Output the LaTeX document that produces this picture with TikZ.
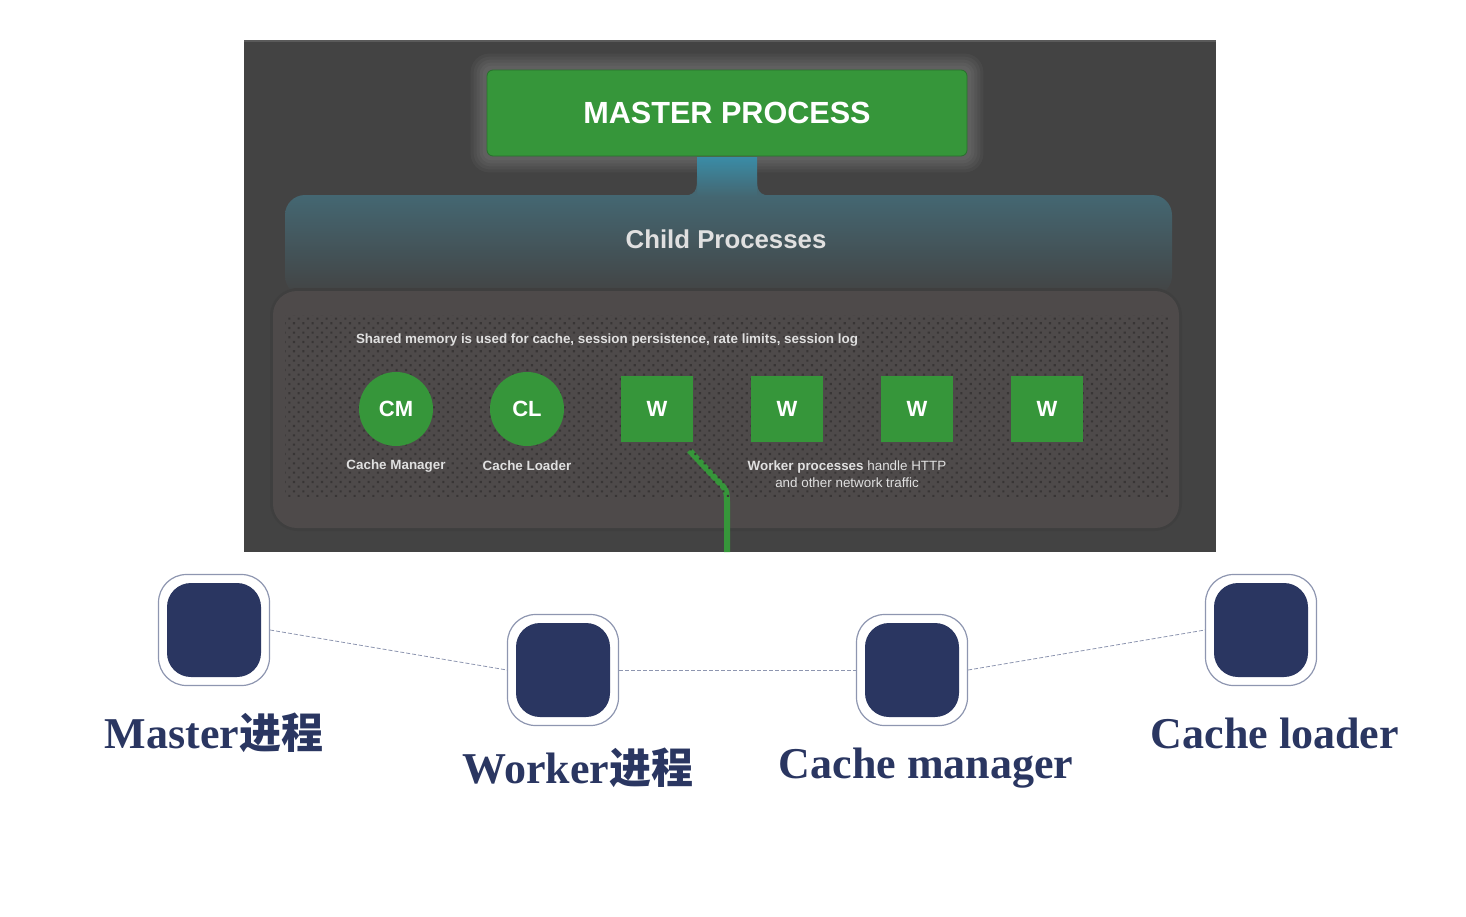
\documentclass[tikz,border=0pt]{standalone}
\usepackage{fontspec}
\setmainfont{Liberation Serif}
\setsansfont{Liberation Sans}
\newfontfamily\cjk{Noto Sans CJK SC}
\usetikzlibrary{positioning,backgrounds,patterns.meta}
\definecolor{panelgray}{HTML}{434343}
\definecolor{innergray}{HTML}{4E4A4A}
\definecolor{dotgray}{HTML}{383535}
\definecolor{ngxgreen}{HTML}{36963A}
\definecolor{tealband}{HTML}{446772}
\definecolor{tealneck}{HTML}{3A8CA6}
\definecolor{navy}{HTML}{2A3661}
\definecolor{ringgray}{HTML}{8E96B0}
\begin{document}
\begin{tikzpicture}[x=0.5pt,y=-0.5pt,
  proc/.style={fill=ngxgreen,text=white,font=\sffamily\bfseries\fontsize{11}{13}\selectfont,inner sep=0pt},
  worker/.style={proc,minimum width=36pt,minimum height=33pt},
  helper/.style={proc,circle,minimum size=37pt},
  note/.style={text=white!88!black,font=\sffamily\fontsize{6.7}{8.5}\selectfont,align=center,inner sep=0pt},
  ring/.style={draw=ringgray,line width=0.6pt,fill=white,rounded corners=14pt,minimum size=55.5pt},
  icon/.style={fill=navy,rounded corners=12pt,minimum size=47pt},
  caption/.style={text=navy,font=\bfseries\fontsize{22}{26}\selectfont,inner sep=0pt}]
  \useasboundingbox (0,0) rectangle (1466,916);
  \node[proc,minimum width=240pt,minimum height=43pt,rounded corners=3pt,draw=ngxgreen!75!black,
        font=\sffamily\bfseries\fontsize{15.3}{18}\selectfont] (master) at (727,113) {MASTER PROCESS};
  \node[note,font=\sffamily\bfseries\fontsize{12.9}{15}\selectfont] (child) at (726,239) {Child Processes};
  \node[note,font=\sffamily\bfseries\fontsize{6.7}{8.5}\selectfont] (shm) at (607,340) {Shared memory is used for cache, session persistence, rate limits, session log};
  \node[helper] (cm) at (396,409) {CM};
  \node[helper] (cl) at (527,409) {CL};
  \node[worker] (w1) at (657,409) {W};
  \node[worker] (w2) at (787,409) {W};
  \node[worker] (w3) at (917,409) {W};
  \node[worker] (w4) at (1047,409) {W};
  \node[note,font=\sffamily\bfseries\fontsize{6.7}{8.5}\selectfont] (cmlabel) at (396,466) {Cache Manager};
  \node[note,font=\sffamily\bfseries\fontsize{6.7}{8.5}\selectfont] (cllabel) at (527,466) {Cache Loader};
  \node[note] (wlabel) at (847,474) {\textbf{Worker processes} handle HTTP\\and other network traffic};
  \coordinate (wireend) at (727,552);
  \begin{scope}[on background layer]
    \fill[panelgray] (244,40) rectangle (1216,552);
    \draw[white!12!panelgray,line width=1pt] (244,41) -- (1216,41);
    \foreach \g in {16,13,10,7,4}
      \fill[white,fill opacity=0.035,rounded corners=\g*0.4pt+3pt] ([shift={(-\g,-\g)}]master.north west) rectangle ([shift={(\g,\g)}]master.south east);
    \shade[top color=tealband,bottom color=panelgray,rounded corners=10pt] (285,195) rectangle (1172,296);
    \shade[top color=tealneck,bottom color=tealband] (697,157) rectangle (757,196);
    \fill[tealband] (679,196) .. controls (697,196) and (697,190) .. (697,176) -- (697,196) -- cycle;
    \fill[tealband] (775,196) .. controls (757,196) and (757,190) .. (757,176) -- (757,196) -- cycle;
    \fill[black!6!panelgray,rounded corners=14pt] (270,288) rectangle (1182,531);
    \fill[innergray,rounded corners=12pt] (273,291) rectangle (1179,528);
    \draw[ngxgreen,line width=3pt] ([shift={(-4,8)}]w1.south east) -- (715,478)
      .. controls (727,490) .. (727,505) -- (wireend);
    \fill[pattern={Dots[angle=45,distance=3.3pt,radius=0.75pt]},pattern color=dotgray] (285,315) rectangle (1170,496);
  \end{scope}
  \node[ring] (mring) at (214,630) {};
  \node[icon] (micon) at (mring) {};
  \node[ring] (wring) at (563,670) {};
  \node[icon] (wicon) at (wring) {};
  \node[ring] (cmring) at (912,670) {};
  \node[icon] (cmicon) at (cmring) {};
  \node[ring] (clring) at (1261,630) {};
  \node[icon] (clicon) at (clring) {};
  \draw[ringgray,line width=0.4pt,dash pattern=on 2pt off 1pt] (mring.east) -- (wring.west);
  \draw[ringgray,line width=0.4pt,dash pattern=on 2pt off 1pt] (wring.east) -- (cmring.west);
  \draw[ringgray,line width=0.4pt,dash pattern=on 2pt off 1pt] (cmring.east) -- (clring.west);
  \node[caption] (mcap) at (214,733) {Master{\cjk\fontsize{21}{24}\selectfont 进程}};
  \node[caption] (wcap) at (578,768) {Worker{\cjk\fontsize{21}{24}\selectfont 进程}};
  \node[caption] (cmcap) at (926,768) {Cache manager};
  \node[caption] (clcap) at (1275,733) {Cache loader};
\end{tikzpicture}
\end{document}
